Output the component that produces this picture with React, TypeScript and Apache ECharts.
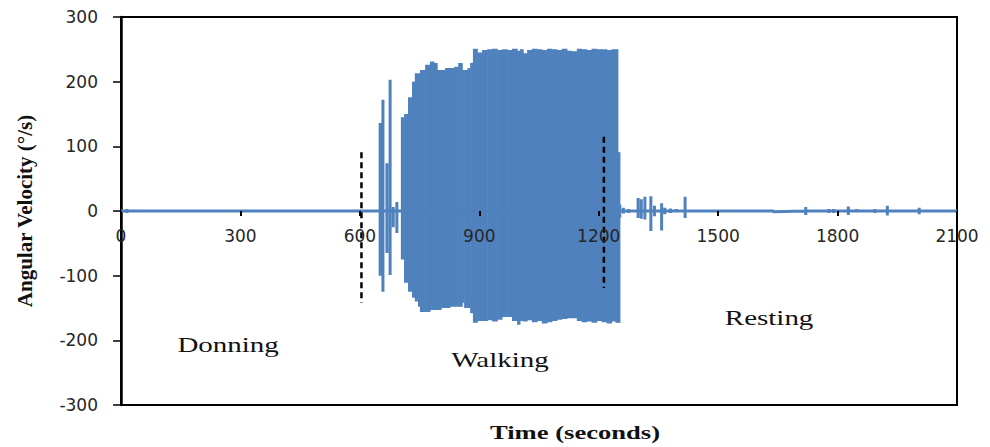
import React, { useEffect, useRef } from 'react';
import * as echarts from 'echarts';

// ---------- data ----------
// Isolated spikes (donning, transition and resting phases): time (s), max and min (°/s)
const spikeTimes = [15, 173, 505, 651, 658, 668, 676, 684, 693, 1253, 1262, 1275, 1299, 1307, 1316, 1331, 1340, 1358, 1366, 1380, 1395, 1417, 1638, 1720, 1778, 1790, 1827, 1848, 1894, 1925, 2005, 2030];
const spikeHigh = [3, 2, 2, 136, 172, 74, 203, 6, 14, 10, 5, 3, 20, 18, 22, 23, 8, 12, 5, 4, 3, 22, 2, 6, 3, 3, 7, 3, 3, 8, 5, 2];
const spikeLow = [-3, -2, -2, -100, -125, -65, -99, -25, -34, -10, -4, -3, -11, -12, -13, -31, -8, -30, -5, -3, -2, -11, -1, -6, -3, -3, -6, -2, -3, -7, -5, -2];

// Walking phase: dense oscillation, read as an envelope (segment edges in s, upper and lower values)
const walkEdges = [703, 711, 721, 731, 738, 746, 751, 764, 776, 786, 794, 804, 814, 826, 837, 847, 857, 862, 870, 877, 884, 895, 907, 920, 932, 945, 957, 970, 982, 995, 1002, 1010, 1020, 1032, 1045, 1057, 1070, 1082, 1095, 1107, 1120, 1132, 1145, 1157, 1170, 1182, 1195, 1207, 1220, 1232, 1242, 1248, 1253];
const walkHigh = [145, 150, 176, 200, 213, 213, 218, 226, 231, 229, 218, 218, 221, 221, 223, 229, 218, 218, 221, 229, 251, 245, 249, 250, 251, 249, 250, 249, 251, 248, 250, 244, 249, 251, 250, 249, 251, 250, 249, 251, 248, 247, 251, 250, 249, 251, 250, 250, 249, 250, 250, 91];
const walkLow = [-75, -111, -125, -134, -140, -148, -156, -156, -153, -153, -153, -150, -150, -148, -148, -148, -142, -150, -150, -158, -173, -170, -170, -169, -171, -168, -164, -164, -170, -176, -170, -171, -169, -172, -170, -174, -172, -170, -168, -167, -166, -166, -170, -172, -171, -173, -170, -172, -174, -171, -173, -173];

// Phase boundaries (dashed lines)
const boundaryTimes = [604, 1213];
const boundaryTop = [91, 115];
const boundaryBottom = [-142, -119];

// Phase labels
const phaseNames = ['Donning', 'Walking', 'Resting'];
const phaseTimes = [269, 952, 1628];
const phaseValues = [-207, -230, -165];

const xMin = 0, xMax = 2100, xStep = 300;
const yMin = -300, yMax = 300, yStep = 100;

// ---------- styling ----------
const BLUE = '#4f81bd';
const SERIF = '"Liberation Serif", "Times New Roman", serif';
const SANS = '"DejaVu Sans", sans-serif';

function buildSignal(): number[][] {
  const pts: number[][] = [[xMin, 0]];
  spikeTimes.forEach((t, i) => {
    pts.push([t, 0], [t, spikeHigh[i]], [t, spikeLow[i]], [t, 0]);
  });
  pts.push([xMax, 0]);
  return pts;
}

function buildWalk(): number[][] {
  return walkHigh.map((h, i) => [walkEdges[i], walkEdges[i + 1], h, walkLow[i]]);
}

export default function App() {
  const ref = useRef<HTMLDivElement>(null);
  useEffect(() => {
    const chart = echarts.init(ref.current!, null, { renderer: 'svg' });
    const option: any = {
      animation: false,
      grid: { left: 121, right: 33, top: 17, bottom: 42, show: true, borderColor: '#000', borderWidth: 2, backgroundColor: 'transparent' },
      xAxis: {
        type: 'value', min: xMin, max: xMax, interval: xStep, z: 10,
        axisLine: { show: false, onZero: true, lineStyle: { color: '#000', width: 1.5 } },
        axisTick: { show: true, length: 5, lineStyle: { color: '#000', width: 2 } },
        axisLabel: { margin: -178, fontFamily: SANS, fontSize: 17, color: '#262626', formatter: (v: number) => String(v) },
        splitLine: { show: false },
      },
      yAxis: {
        type: 'value', min: yMin, max: yMax, interval: yStep,
        name: 'Angular Velocity (°/s)', nameLocation: 'middle', nameGap: 86,
        nameTextStyle: { fontFamily: SERIF, fontWeight: 'bold', fontSize: 21, color: '#111' },
        axisLine: { show: true, onZero: false, lineStyle: { color: '#000', width: 2.5 } },
        axisTick: { show: true, length: 8, lineStyle: { color: '#000', width: 1.5 } },
        axisLabel: { margin: 23, fontFamily: SANS, fontSize: 17, color: '#262626', formatter: (v: number) => String(v) },
        splitLine: { show: false },
      },
      series: [
        {
          type: 'line', data: buildSignal(), showSymbol: false, symbol: 'none',
          lineStyle: { color: BLUE, width: 3 }, itemStyle: { color: BLUE }, z: 3,
        },
        {
          type: 'custom', data: buildWalk(), encode: { x: [0, 1], y: [2, 3] }, z: 4,
          renderItem: (_p: any, api: any) => {
            const a = api.coord([api.value(0), api.value(2)]);
            const b = api.coord([api.value(1), api.value(3)]);
            return {
              type: 'rect',
              shape: { x: a[0], y: a[1], width: b[0] - a[0] + 0.6, height: b[1] - a[1] },
              style: { fill: BLUE },
            };
          },
        },
        ...boundaryTimes.map((t, i) => ({
          type: 'line', data: [[t, boundaryTop[i]], [t, boundaryBottom[i]]], showSymbol: false, symbol: 'none',
          lineStyle: { color: '#000', width: 2.5, type: [6, 4] }, z: 6,
        })),
      ],
    };
    chart.setOption(option);
    const labels = phaseNames.map((name, i) => {
      const p = chart.convertToPixel({ gridIndex: 0 } as any, [phaseTimes[i], phaseValues[i]]) as number[];
      return {
        type: 'text', x: p[0], y: p[1], scaleX: 1.38, z: 10,
        style: { text: name, fontFamily: SERIF, fontSize: 21, fill: '#111', align: 'center', verticalAlign: 'middle', textAlign: 'center', textVerticalAlign: 'middle' },
      };
    });
    chart.setOption({
      graphic: [
        ...labels,
        {
          type: 'text', x: 575, y: 432, scaleX: 1.4, z: 10,
          style: { text: 'Time (seconds)', fontFamily: SERIF, fontWeight: 'bold', fontSize: 19, fill: '#111', align: 'center', verticalAlign: 'middle', textAlign: 'center', textVerticalAlign: 'middle' },
        },
      ],
    });
    return () => chart.dispose();
  }, []);
  return <div ref={ref} style={{ position: 'absolute', left: 0, top: 0, width: 990, height: 447 }} />;
}
